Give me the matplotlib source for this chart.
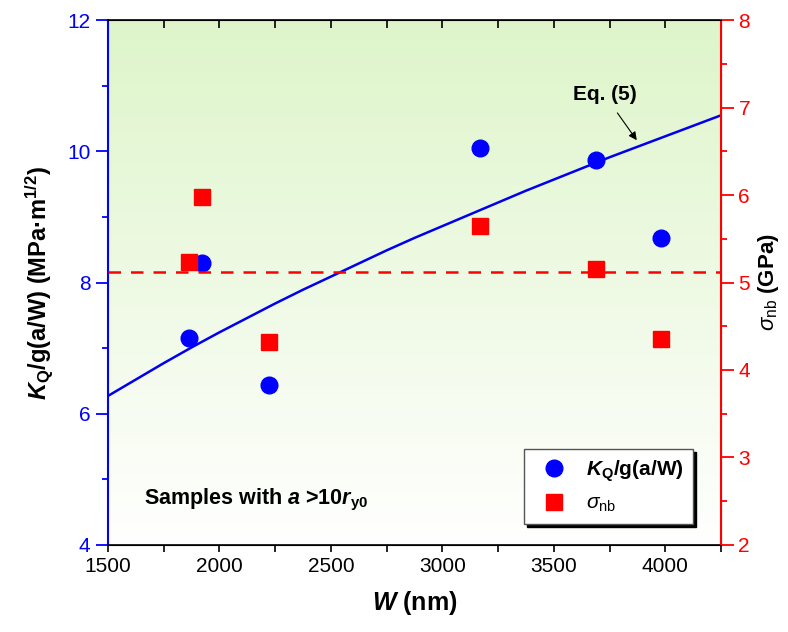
import numpy as np
import matplotlib
matplotlib.use("Agg")
import matplotlib.pyplot as plt
from matplotlib.ticker import MultipleLocator
from matplotlib.lines import Line2D

plt.rcParams['font.family'] = ['Liberation Sans', 'DejaVu Sans']
plt.rcParams['mathtext.fontset'] = 'custom'
plt.rcParams['mathtext.rm'] = 'Liberation Sans'
plt.rcParams['mathtext.it'] = 'Liberation Sans:italic'
plt.rcParams['mathtext.bf'] = 'Liberation Sans:bold'
plt.rcParams['mathtext.bfit'] = 'Liberation Sans:bold:italic'

# data
w_samples = [1864, 1922, 2224, 3171, 3691, 3980]
kq_values = [7.15, 8.30, 6.43, 10.05, 9.87, 8.68]
w_sigma = [1864, 1921, 2224, 3171, 3691, 3980]
sigma_nb = [5.23, 5.98, 4.32, 5.65, 5.15, 4.35]
sigma_mean = 5.12

# Eq. (5) curve, read at several W
w_curve = [1500, 1625, 1750, 1875, 2000, 2125, 2250, 2375, 2500, 2625, 2750, 2875,
           3000, 3125, 3250, 3375, 3500, 3625, 3750, 3875, 4000, 4125, 4250]
k_curve = [6.27, 6.52, 6.77, 7.01, 7.24, 7.46, 7.68, 7.89, 8.09, 8.29, 8.49, 8.68,
           8.86, 9.04, 9.22, 9.40, 9.57, 9.74, 9.91, 10.07, 10.23, 10.39, 10.55]

fig = plt.figure(figsize=(7.88, 6.32), dpi=100)
ax = fig.add_axes([0.137, 0.138, 0.778, 0.830])

# green-to-white background
grad = np.linspace(0, 1, 256)[:, None]
top = np.array([0.87, 0.96, 0.79])
bot = np.array([1.0, 1.0, 1.0])
img = top[None, None, :] * (1 - grad[:, :, None]) + bot[None, None, :] * grad[:, :, None]
ax.imshow(img, extent=[0, 1, 0, 1], transform=ax.transAxes, aspect='auto', zorder=0)

ax.plot(w_curve, k_curve, color='#0000ee', lw=1.8, zorder=2)
ax.plot(w_samples, kq_values, 'o', color='#0000ff', ms=12, zorder=3)

ax.set_xlim(1500, 4250)
ax.set_ylim(4, 12)
ax.xaxis.set_major_locator(MultipleLocator(500))
ax.xaxis.set_minor_locator(MultipleLocator(250))
ax.yaxis.set_major_locator(MultipleLocator(2))
ax.yaxis.set_minor_locator(MultipleLocator(1))

ax.spines['left'].set_color('#0000ff')
ax.spines['left'].set_linewidth(1.5)
for s in ['top', 'bottom']:
    ax.spines[s].set_linewidth(1.2)
ax.tick_params(axis='y', which='both', colors='#0000ff', labelsize=15, direction='out')
ax.tick_params(axis='y', which='major', length=9, width=1.3)
ax.tick_params(axis='y', which='minor', length=4, width=1.3)
ax.tick_params(axis='x', which='both', direction='out', labelsize=15, top=False, length=5, width=1.2)

# top ticks pointing inward
secx = ax.secondary_xaxis('top')
secx.xaxis.set_major_locator(MultipleLocator(250))
secx.tick_params(axis='x', direction='in', length=6, width=1.2, labeltop=False)
secx.spines['top'].set_visible(False)

ax.set_xlabel(r'$\mathbfit{W}$ (nm)', fontsize=18, fontweight='bold', labelpad=10)
ax.set_ylabel(r'$\mathbfit{K}_{\mathbf{Q}}$/g(a/W) (MPa·m$^{\mathbf{1/2}}$)', fontsize=17,
              fontweight='bold', labelpad=8)

ax2 = ax.twinx()
ax2.axhline(sigma_mean, color='#ff0000', lw=1.8, ls=(0, (5, 4)), zorder=2)
ax2.plot(w_sigma, sigma_nb, 's', color='#ff0000', ms=11, zorder=3)
ax2.set_ylim(2, 8)
ax2.yaxis.set_major_locator(MultipleLocator(1))
ax2.yaxis.set_minor_locator(MultipleLocator(0.5))
ax2.spines['right'].set_color('#ff0000')
ax2.spines['right'].set_linewidth(1.5)
ax2.spines['left'].set_visible(False)
ax2.tick_params(axis='y', which='both', colors='#ff0000', labelsize=15, direction='out')
ax2.tick_params(axis='y', which='major', length=9, width=1.3)
ax2.tick_params(axis='y', which='minor', length=4, width=1.3)
ax2.set_ylabel(r'$\sigma_{\mathrm{nb}}$ (GPa)', fontsize=16, fontweight='bold', labelpad=4)

ax.annotate('Eq. (5)', xy=(3872, 10.17), xytext=(3728, 10.86), fontsize=15,
            fontweight='bold', ha='center', va='center',
            arrowprops=dict(arrowstyle='-|>', color='black', lw=0.8, shrinkA=5, shrinkB=0,
                            mutation_scale=12))
ax.text(1662, 4.68, r'Samples with $\mathbfit{a}$ >10$\mathbfit{r}_{\mathbf{y0}}$', fontsize=15.5,
        fontweight='bold', va='center')

handles = [Line2D([], [], marker='o', ls='none', color='#0000ff', ms=12),
           Line2D([], [], marker='s', ls='none', color='#ff0000', ms=11)]
labels = [r'$\mathbfit{K}_{\mathbf{Q}}$/g(a/W)', r'$\sigma_{\mathrm{nb}}$']
leg = ax2.legend(handles, labels, loc='lower left', bbox_to_anchor=(0.679, 0.04),
                 borderaxespad=0, prop={'weight': 'bold', 'size': 15}, frameon=True,
                 fancybox=False, shadow={'color': 'black', 'alpha': 1.0}, edgecolor='#555555',
                 framealpha=1, handletextpad=0.5, borderpad=0.45, labelspacing=0.5)
leg.get_frame().set_linewidth(1.0)

fig.savefig('out.png', dpi=100)
